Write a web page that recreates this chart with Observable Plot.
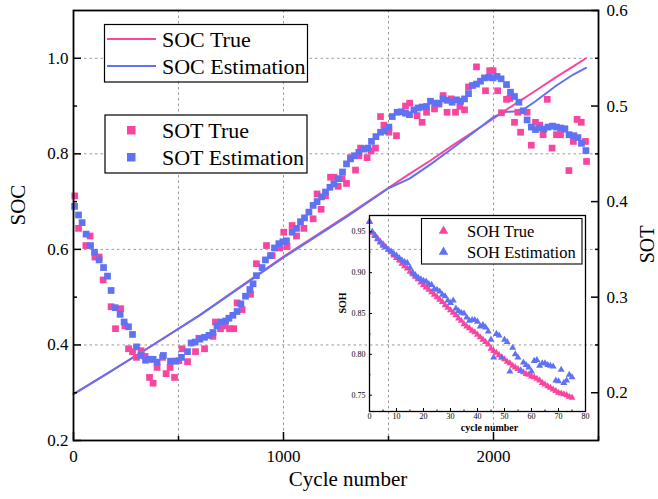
<!DOCTYPE html>
<html><head><meta charset="utf-8">
<script src="https://cdn.jsdelivr.net/npm/d3@7"></script>
<script src="https://cdn.jsdelivr.net/npm/@observablehq/plot@0.6"></script>
<style>
body{margin:0;background:#fff;}
#wrap{position:relative;width:658px;height:499px;overflow:hidden;}
#wrap svg{position:absolute;font-family:"Liberation Serif","Times New Roman",serif;}
</style></head><body><div id="wrap"></div>
<script>
// ---------- DATA ----------
// SOC lines (left axis)
const socCycle = [0,160,350,600,1000,1300,1500,1600,1700,1800,1900,2000,2060,2130,2200,2300,2380,2440];
const socTrue  = [0.297,0.340,0.392,0.462,0.585,0.670,0.729,0.758,0.786,0.816,0.845,0.874,0.892,0.912,0.932,0.961,0.983,1.000];
const socEst   = [0.297,0.340,0.392,0.462,0.583,0.668,0.728,0.748,0.778,0.810,0.843,0.877,0.888,0.889,0.910,0.943,0.966,0.980];

// SOT scatter (right axis)
const sotEstCycle = [5,24,41,60,81,100,122,143,162,179,198,222,241,262,281,300,322,343,362,379,398,428,462,486,514,543,560,579,602,624,645,664,683,703,724,740,759,779,797,819,840,855,871,898,914,938,957,978,997,1014,1041,1062,1081,1100,1121,1141,1160,1181,1200,1221,1240,1260,1281,1300,1319,1338,1359,1383,1402,1419,1440,1462,1482,1502,1518,1541,1560,1581,1600,1621,1641,1660,1681,1700,1721,1740,1760,1779,1803,1824,1843,1862,1881,1900,1919,1938,1957,1978,1998,2017,2036,2062,2081,2100,2121,2141,2160,2180,2200,2220,2240,2260,2281,2300,2319,2340,2360,2383,2402,2419,2440];
const sotEst = [0.395,0.386,0.378,0.366,0.354,0.347,0.339,0.331,0.322,0.307,0.289,0.282,0.274,0.269,0.261,0.248,0.239,0.234,0.235,0.235,0.232,0.239,0.233,0.233,0.237,0.243,0.252,0.253,0.256,0.258,0.260,0.263,0.270,0.274,0.275,0.278,0.281,0.285,0.293,0.301,0.308,0.314,0.3225,0.331,0.339,0.3435,0.3515,0.356,0.358,0.359,0.368,0.372,0.379,0.383,0.389,0.396,0.400,0.405,0.410,0.415,0.4185,0.424,0.431,0.4395,0.4447,0.448,0.4516,0.455,0.456,0.463,0.468,0.4726,0.474,0.478,0.489,0.4935,0.494,0.4925,0.491,0.496,0.498,0.499,0.4995,0.505,0.503,0.503,0.5075,0.506,0.504,0.5065,0.505,0.5075,0.513,0.5215,0.523,0.526,0.5295,0.530,0.5295,0.531,0.5285,0.5225,0.5145,0.510,0.504,0.495,0.4855,0.478,0.4754,0.477,0.476,0.478,0.479,0.478,0.477,0.476,0.470,0.469,0.467,0.461,0.4534];
const sotTrueCycle = [6,24,59,79,102,122,141,179,200,224,245,262,281,300,322,341,362,379,398,424,441,460,481,501,517,543,581,597,624,664,676,700,721,743,763,779,803,843,871,919,946,982,1001,1017,1041,1062,1097,1141,1160,1179,1200,1224,1240,1260,1279,1300,1319,1343,1359,1367,1398,1417,1438,1462,1478,1502,1538,1581,1601,1636,1660,1681,1719,1740,1760,1779,1798,1819,1840,1862,1881,1919,1962,1982,1998,2020,2038,2062,2078,2100,2116,2129,2160,2180,2200,2220,2236,2256,2279,2300,2319,2338,2359,2380,2398,2418,2438,2443];
const sotTrue = [0.406,0.372,0.354,0.364,0.342,0.342,0.318,0.290,0.267,0.288,0.270,0.246,0.243,0.237,0.244,0.238,0.216,0.210,0.2265,0.237,0.220,0.2265,0.216,0.2335,0.246,0.2325,0.243,0.257,0.246,0.259,0.274,0.267,0.270,0.267,0.267,0.294,0.287,0.303,0.335,0.354,0.3435,0.3515,0.368,0.353,0.375,0.364,0.372,0.382,0.408,0.392,0.406,0.4255,0.4255,0.416,0.424,0.419,0.446,0.433,0.448,0.456,0.446,0.453,0.456,0.489,0.480,0.4726,0.469,0.500,0.503,0.490,0.483,0.4935,0.497,0.502,0.511,0.4935,0.5075,0.4935,0.4995,0.496,0.520,0.541,0.516,0.537,0.537,0.516,0.493,0.507,0.508,0.483,0.4935,0.4726,0.4935,0.459,0.483,0.480,0.470,0.507,0.456,0.470,0.470,0.476,0.4325,0.463,0.486,0.483,0.463,0.442];

// SOH inset
const sohCycle = [0,1,2,3,4,5,6,7,8,9,10,11,12,13,14,15,16,17,18,19,20,21,22,23,24,25,26,27,28,29,30,31,32,33,34,35,36,37,38,39,40,41,42,43,44,45,46,47,48,49,50,51,52,53,54,55,56,57,58,59,60,61,62,63,64,65,66,67,68,69,70,71,72,73,74,75];
const sohTrue = [0.963,0.949,0.946,0.942,0.938,0.935,0.931,0.928,0.925,0.921,0.918,0.915,0.911,0.908,0.905,0.901,0.898,0.895,0.892,0.888,0.885,0.882,0.879,0.876,0.873,0.870,0.867,0.864,0.860,0.857,0.854,0.851,0.848,0.844,0.841,0.837,0.834,0.832,0.829,0.827,0.824,0.821,0.818,0.815,0.812,0.807,0.804,0.802,0.799,0.796,0.794,0.791,0.789,0.786,0.784,0.782,0.780,0.778,0.776,0.775,0.773,0.772,0.770,0.768,0.765,0.763,0.761,0.759,0.757,0.755,0.753,0.752,0.751,0.750,0.748,0.747];
const sohEst = [0.962,0.950,0.945,0.941,0.937,0.933,0.931,0.928,0.926,0.923,0.921,0.918,0.915,0.913,0.912,0.906,0.900,0.897,0.894,0.892,0.890,0.889,0.886,0.885,0.880,0.879,0.877,0.873,0.871,0.866,0.863,0.866,0.856,0.853,0.851,0.850,0.845,0.841,0.842,0.842,0.840,0.834,0.836,0.833,0.828,0.818,0.796,0.825,0.823,0.796,0.818,0.815,0.779,0.808,0.800,0.796,0.780,0.790,0.787,0.784,0.779,0.792,0.793,0.786,0.789,0.789,0.787,0.786,0.785,0.768,0.767,0.781,0.765,0.768,0.775,0.772];

// axis ticks
const xMajor = [0,1000,2000], xMinor = [500,1500,2500];
const socMajor = [0.2,0.4,0.6,0.8,1.0], socMinor = [0.3,0.5,0.7,0.9];
const sotMajor = [0.2,0.3,0.4,0.5,0.6], sotMinor = [0.25,0.35,0.45,0.55];
const gridXv = [500,1000,1500,2000], gridYv = [0.4,0.6,0.8,1.0];
const sohXMajor = [0,10,20,30,40,50,60,70,80], sohXMinor = [5,15,25,35,45,55,65,75];
const sohYMajor = [0.75,0.80,0.85,0.90,0.95], sohYMinor = [0.775,0.825,0.875,0.925];

// ---------- BUILD ----------
const PINK = "#f8469f", BLUE = "#6072f4";
const FONT = "Liberation Serif";
// map SOT (right axis, 0.15..0.6) onto the SOC y scale (0.2..1.1)
const sotToY = v => 0.2 + (v - 0.15) * 2;
const yToSot = y => (y - 0.2) / 2 + 0.15;

const socRows = socCycle.map((c,i)=>({c, t:socTrue[i], e:socEst[i]}));
const sotTrueRows = sotTrueCycle.map((c,i)=>({c, v:sotTrue[i]}));
const sotEstRows = sotEstCycle.map((c,i)=>({c, v:sotEst[i]}));
const sohRows = sohCycle.map((c,i)=>({c, t:sohTrue[i], e:sohEst[i]}));

const gridStyle = {stroke:"#9a9a9a", strokeOpacity:1, strokeWidth:1, strokeDasharray:"2.5,3"};

const main = Plot.plot({
  width: 658, height: 499,
  marginLeft: 73, marginRight: 60, marginTop: 10, marginBottom: 59,
  style: {fontFamily: FONT, fontSize: "17px", color: "#000", background: "transparent", overflow: "visible"},
  x: {domain: [0, 2500]},
  y: {domain: [0.2, 1.1]},
  marks: [
    Plot.gridX(gridXv, gridStyle),
    Plot.gridY(gridYv, gridStyle),
    Plot.line(socRows, {x:"c", y:"t", stroke:PINK, strokeWidth:2}),
    Plot.line(socRows, {x:"c", y:"e", stroke:BLUE, strokeWidth:2}),
    Plot.dot(sotTrueRows, {x:"c", y:d=>sotToY(d.v), symbol:"square", r:3.8, fill:PINK}),
    Plot.dot(sotEstRows, {x:"c", y:d=>sotToY(d.v), symbol:"square", r:3.8, fill:BLUE}),
    Plot.frame({stroke:"#000", strokeWidth:1.8}),
    // bottom axis
    Plot.axisX(xMajor, {anchor:"bottom", tickSize:-8, fill:"none", label:null, strokeWidth:1.5}),
    Plot.axisX(xMinor, {anchor:"bottom", tickSize:-4, fill:"none", label:null, strokeWidth:1.5}),
    Plot.axisX(xMajor, {anchor:"bottom", tickSize:0, tickPadding:9, label:null, tickFormat:d=>String(d), fontSize:17}),
    // left axis
    Plot.axisY(socMajor, {anchor:"left", tickSize:-8, fill:"none", label:null, strokeWidth:1.5}),
    Plot.axisY(socMinor, {anchor:"left", tickSize:-4, fill:"none", label:null, strokeWidth:1.5}),
    Plot.axisY(socMajor, {anchor:"left", tickSize:0, tickPadding:5, label:null, tickFormat:d=>d.toFixed(1), fontSize:17}),
    // right axis (SOT)
    Plot.axisY(sotMajor.map(sotToY), {anchor:"right", tickSize:-8, fill:"none", label:null, strokeWidth:1.5}),
    Plot.axisY(sotMinor.map(sotToY), {anchor:"right", tickSize:-4, fill:"none", label:null, strokeWidth:1.5}),
    Plot.axisY(sotMajor.map(sotToY), {anchor:"right", tickSize:0, tickPadding:8, label:null, tickFormat:d=>yToSot(d).toFixed(1), fontSize:17}),
    // axis titles
    Plot.text(["SOC"], {text:d=>d, frameAnchor:"left", dx:-55, rotate:-90, fontSize:21}),
    Plot.text(["SOT"], {text:d=>d, frameAnchor:"right", dx:49, rotate:-90, fontSize:20}),
    Plot.text(["Cycle number"], {text:d=>d, frameAnchor:"bottom", dx:12, dy:45, fontSize:21})
  ]
});
main.style.left = "0px"; main.style.top = "0px";
const wrap = document.getElementById("wrap");
wrap.appendChild(main);

// legends for main chart
const leg = d3.create("svg").attr("width",658).attr("height",499).style("left","0px").style("top","0px");
const g1 = leg.append("g");
g1.append("rect").attr("x",104.5).attr("y",24.5).attr("width",203).attr("height",57.5).attr("fill","#fff").attr("stroke","#000").attr("stroke-width",1.2);
g1.append("line").attr("x1",107).attr("x2",156).attr("y1",39).attr("y2",39).attr("stroke",PINK).attr("stroke-width",2);
g1.append("line").attr("x1",107).attr("x2",156).attr("y1",66).attr("y2",66).attr("stroke",BLUE).attr("stroke-width",2);
g1.append("text").attr("x",162).attr("y",46.5).attr("font-size",22).text("SOC True");
g1.append("text").attr("x",162).attr("y",73.5).attr("font-size",22).text("SOC Estimation");
const g2 = leg.append("g");
g2.append("rect").attr("x",105).attr("y",115).attr("width",202).attr("height",58).attr("fill","#fff").attr("stroke","#000").attr("stroke-width",1.2);
g2.append("rect").attr("x",127).attr("y",126).attr("width",8.5).attr("height",8.5).attr("fill",PINK);
g2.append("rect").attr("x",127).attr("y",153).attr("width",8.5).attr("height",8.5).attr("fill",BLUE);
g2.append("text").attr("x",162).attr("y",137.5).attr("font-size",22).text("SOT True");
g2.append("text").attr("x",162).attr("y",164.5).attr("font-size",22).text("SOT Estimation");
wrap.appendChild(leg.node());

// inset
const inset = Plot.plot({
  width: 263, height: 234,
  marginLeft: 39, marginRight: 8, marginTop: 10, marginBottom: 28,
  style: {fontFamily: FONT, fontSize: "8px", color: "#000", background: "transparent", overflow: "visible"},
  x: {domain: [0, 80]},
  y: {domain: [0.73, 0.97]},
  marks: [
    Plot.dot(sohRows, {x:"c", y:"t", symbol:"triangle", r:2.6, fill:PINK}),
    Plot.dot(sohRows, {x:"c", y:"e", symbol:"triangle", r:2.6, fill:BLUE}),
    Plot.frame({stroke:"#000", strokeWidth:1.3}),
    Plot.axisX(sohXMajor, {anchor:"bottom", tickSize:-3, fill:"none", label:null}),
    Plot.axisX(sohXMinor, {anchor:"bottom", tickSize:-1.5, fill:"none", label:null}),
    Plot.axisX(sohXMajor, {anchor:"bottom", tickSize:0, tickPadding:2, label:null, tickFormat:d=>String(d), fontSize:8}),
    Plot.axisY(sohYMajor, {anchor:"left", tickSize:-3, fill:"none", label:null}),
    Plot.axisY(sohYMinor, {anchor:"left", tickSize:-1.5, fill:"none", label:null}),
    Plot.axisY(sohYMajor, {anchor:"left", tickSize:0, tickPadding:4, label:null, tickFormat:d=>d.toFixed(2), fontSize:8}),
    Plot.text(["cycle number"], {text:d=>d, frameAnchor:"bottom", dx:12, dy:19, fontSize:10, fontWeight:"bold"}),
    Plot.text(["SOH"], {text:d=>d, frameAnchor:"left", dx:-27, rotate:-90, fontSize:10, fontWeight:"bold"})
  ]
});
inset.style.left = "330px"; inset.style.top = "205px";
wrap.appendChild(inset);

// inset legend
const leg2 = d3.create("svg").attr("width",658).attr("height",499).style("left","0px").style("top","0px");
leg2.append("rect").attr("x",421.5).attr("y",218.5).attr("width",160.5).attr("height",45.5).attr("fill","#fff").attr("stroke","#000").attr("stroke-width",1.1);
const tri = d3.symbol(d3.symbolTriangle, 40)();
leg2.append("path").attr("d",tri).attr("transform","translate(443.5,231)").attr("fill",PINK);
leg2.append("path").attr("d",tri).attr("transform","translate(443.5,252)").attr("fill",BLUE);
leg2.append("text").attr("x",467).attr("y",236.5).attr("font-size",16.5).text("SOH True");
leg2.append("text").attr("x",467).attr("y",258).attr("font-size",16.5).text("SOH Estimation");
wrap.appendChild(leg2.node());
</script>
</body></html>
